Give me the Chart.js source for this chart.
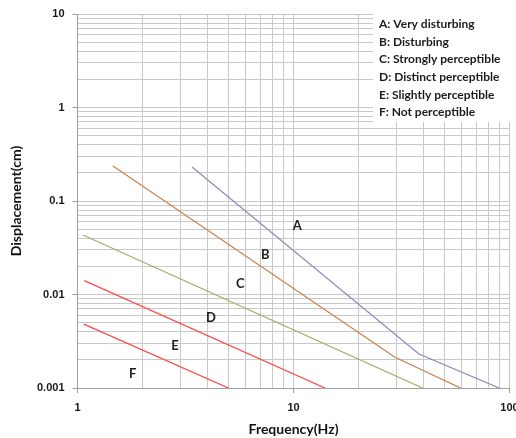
<!DOCTYPE html>
<html>
<head>
<meta charset="utf-8">
<script src="https://cdn.jsdelivr.net/npm/chart.js@4/dist/chart.umd.min.js"></script>
<style>
  html, body { margin: 0; padding: 0; background: #fff; }
  #wrap { width: 516px; height: 438px; }
</style>
</head>
<body>
<div id="wrap"><canvas id="myChart"></canvas></div>
<script>
// vibration perception limits
const seriesNames = ['A: Very disturbing', 'B: Disturbing', 'C: Strongly perceptible',
  'D: Distinct perceptible', 'E: Slightly perceptible', 'F: Not perceptible'];
const seriesTags = ['A', 'B', 'C', 'D', 'E', 'F'];

const freqA = [3.39, 38.1, 89.7];
const dispA = [0.231, 0.00231, 0.001];
const freqB = [1.46, 29.5, 59.4];
const dispB = [0.237, 0.00213, 0.001];
const freqC = [1.06, 39.6];
const dispC = [0.0433, 0.001];
const freqD = [1.075, 14.0];
const dispD = [0.0141, 0.001];
const freqE = [1.07, 5.0];
const dispE = [0.00483, 0.001];

// where the letters sit (frequency, displacement)
const tagFreq = [10.4, 7.4, 5.67, 4.15, 2.83, 1.80];
const tagDisp = [0.054, 0.0264, 0.0129, 0.0056, 0.00281, 0.00141];

const xTicks = [1, 2, 3, 4, 5, 6, 7, 8, 9, 10, 20, 30, 40, 50, 60, 70, 80, 90, 100];
const xLabels = [1, 10, 100];
const yTicks = [0.001, 0.002, 0.003, 0.004, 0.005, 0.006, 0.007, 0.008, 0.009,
  0.01, 0.02, 0.03, 0.04, 0.05, 0.06, 0.07, 0.08, 0.09,
  0.1, 0.2, 0.3, 0.4, 0.5, 0.6, 0.7, 0.8, 0.9,
  1, 2, 3, 4, 5, 6, 7, 8, 9, 10];
const yLabels = [0.001, 0.01, 0.1, 1, 10];

const colors = ['#8f8cba', '#c68452', '#9bb46a', '#ff4a4a', '#ff4a4a', 'rgba(0,0,0,0)'];

function pts(fs, ds) {
  return fs.map((f, i) => ({x: f, y: ds[i]}));
}

const lineData = [pts(freqA, dispA), pts(freqB, dispB), pts(freqC, dispC),
  pts(freqD, dispD), pts(freqE, dispE), []];

const data = {
  datasets: seriesNames.map((name, i) => ({
    label: name,
    data: lineData[i],
    borderColor: colors[i],
    backgroundColor: colors[i],
    borderWidth: 1.3,
    pointRadius: 0,
    tension: 0
  }))
};

function isLabel(list, v) {
  return list.some(l => Math.abs(l - v) / l < 1e-6);
}

const gridColor = '#c9c9c9';

// white box with the category names, top right of the plot
const legendBox = {
  id: 'legendBox',
  afterDatasetsDraw(chart) {
    const ctx = chart.ctx;
    const area = chart.chartArea;
    ctx.save();
    ctx.fillStyle = '#fff';
    ctx.fillRect(373, area.top - 2, area.right - 373 + 1, 110);
    ctx.font = 'bold 12px Lato';
    ctx.fillStyle = '#1c1c1c';
    ctx.textBaseline = 'middle';
    ctx.textAlign = 'left';
    chart.data.datasets.forEach((ds, i) => {
      ctx.fillText(ds.label, 379, 24 + i * 17.7);
    });
    // letters next to the lines
    const xs = chart.scales.x, ys = chart.scales.y;
    ctx.font = 'bold 13px Lato';
    ctx.textAlign = 'center';
    seriesTags.forEach((t, i) => {
      ctx.fillText(t, xs.getPixelForValue(tagFreq[i]), ys.getPixelForValue(tagDisp[i]));
    });
    ctx.restore();
  }
};

const config = {
  type: 'line',
  data: data,
  options: {
    animation: false,
    responsive: true,
    maintainAspectRatio: false,
    layout: {
      padding: {left: 0, right: 6.5, top: 14, bottom: 0}
    },
    plugins: {
      legend: { display: false },
      tooltip: { enabled: false }
    },
    scales: {
      x: {
        type: 'logarithmic',
        min: 1,
        max: 100,
        afterBuildTicks: s => { s.ticks = xTicks.map(v => ({value: v})); },
        afterFit: s => { s.height = 50; s.paddingLeft = 0; s.paddingRight = 0; },
        ticks: {
          autoSkip: false,
          maxRotation: 0,
          padding: 8,
          color: '#1a1a1a',
          font: {family: 'Liberation Sans', size: 11, weight: 'bold'},
          callback: v => isLabel(xLabels, v) ? String(v) : ''
        },
        grid: {
          color: gridColor,
          tickLength: 5,
          tickColor: c => (c.tick && isLabel(xLabels, c.tick.value)) ? '#a0a0a0' : 'rgba(0,0,0,0)'
        },
        border: { color: '#a0a0a0' },
        title: {
          display: true,
          text: 'Frequency(Hz)',
          color: '#111',
          padding: {top: 0, bottom: 0},
          font: {family: 'Lato', size: 14, weight: 'bold'}
        }
      },
      y: {
        type: 'logarithmic',
        min: 0.001,
        max: 10,
        afterBuildTicks: s => { s.ticks = yTicks.map(v => ({value: v})); },
        afterFit: s => { s.width = 77.5; s.paddingTop = 0; s.paddingBottom = 0; },
        ticks: {
          autoSkip: false,
          padding: 8,
          color: '#1a1a1a',
          font: {family: 'Liberation Sans', size: 11, weight: 'bold'},
          callback: v => isLabel(yLabels, v) ? String(v) : ''
        },
        grid: {
          color: gridColor,
          tickLength: 5,
          tickColor: c => (c.tick && isLabel(yLabels, c.tick.value)) ? '#a0a0a0' : 'rgba(0,0,0,0)'
        },
        border: { color: '#a0a0a0' },
        title: {
          display: true,
          text: 'Displacement(cm)',
          color: '#111',
          padding: {top: 8, bottom: 0},
          font: {family: 'Lato', size: 14, weight: 'bold'}
        }
      }
    }
  },
  plugins: [legendBox]
};

var myChart;

function initChart() {
  var ctx = document.getElementById('myChart').getContext('2d');
  myChart = new Chart(ctx, config);
}

window.addEventListener('load', _ => {
  if (!myChart) {
    initChart();
  }
});
</script>
</body>
</html>
